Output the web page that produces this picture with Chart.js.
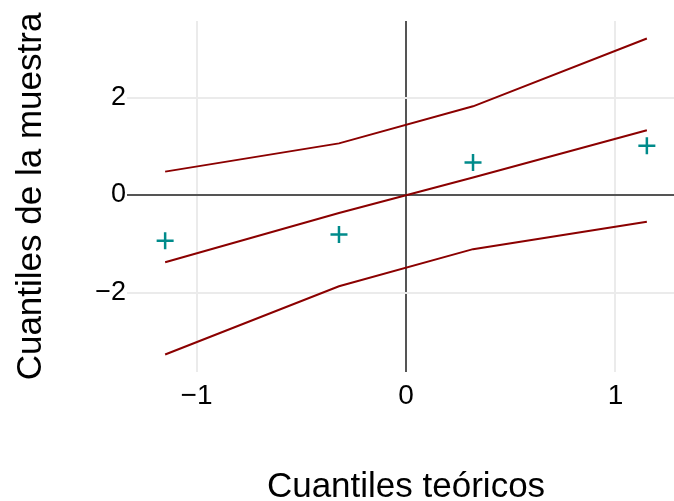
<!DOCTYPE html>
<html>
<head>
<meta charset="utf-8">
<script src="https://cdn.jsdelivr.net/npm/chart.js@4/dist/chart.umd.min.js"></script>
<style>
  html, body { margin: 0; padding: 0; background: #fff; overflow: hidden; }
  /* the panel runs a little past the right edge of the frame */
  .frame { width: 674px; height: 501px; overflow: hidden; }
  #qqChart { display: block; }
</style>
</head>
<body>
<div class="frame">
  <canvas id="qqChart" width="681" height="501"></canvas>
</div>
<script>
// Theoretical quantiles (x) and sample quantiles (y)
const theoretical = [-1.15, -0.32, 0.32, 1.15];
const sample = [-0.94, -0.81, 0.67, 1.01];
// Reference line and confidence band at the same x positions
const refLine = [-1.38, -0.37, 0.36, 1.33];
const upperBand = [0.48, 1.06, 1.82, 3.21];
const lowerBand = [-3.27, -1.87, -1.11, -0.55];
const xTicks = [-1, 0, 1];
const yTicks = [-2, 0, 2];

const lineRed = "#8b0000";
const pointTeal = "#008b8b";
const gridGrey = "#ebebeb";
const axisGrey = "#555555";

function toPoints(ys) {
  return theoretical.map(function(x, i) { return { x: x, y: ys[i] }; });
}

function minusSign(v) {
  return String(v).replace("-", "\u2212");
}

function lineSet(ys) {
  return {
    data: toPoints(ys),
    showLine: true,
    borderColor: lineRed,
    borderWidth: 2,
    pointRadius: 0,
    fill: false,
    tension: 0
  };
}

// grid line at zero doubles as the axis line
function gridColor(c) {
  return c.tick && c.tick.value === 0 ? axisGrey : gridGrey;
}

document.addEventListener("DOMContentLoaded", function() {
  const ctx = document.getElementById("qqChart").getContext("2d");
  Chart.defaults.font.family = "'Liberation Sans', Arial, sans-serif";
  Chart.defaults.color = "#000";

  new Chart(ctx, {
    type: "scatter",
    data: {
      datasets: [
        lineSet(upperBand),
        lineSet(lowerBand),
        lineSet(refLine),
        {
          data: toPoints(sample),
          pointStyle: "cross",
          pointRadius: 8.5,
          pointBorderWidth: 2.5,
          borderColor: pointTeal,
          backgroundColor: pointTeal,
          showLine: false
        }
      ]
    },
    options: {
      responsive: false,
      animation: false,
      devicePixelRatio: 1,
      layout: { autoPadding: false, padding: { top: 21, right: 0, left: 0, bottom: 0 } },
      plugins: {
        legend: { display: false },
        tooltip: { enabled: false }
      },
      scales: {
        x: {
          type: "linear",
          min: -1.313,
          max: 1.313,
          afterFit: function(scale) { scale.height = 129; },
          afterBuildTicks: function(scale) {
            scale.ticks = xTicks.map(function(v) { return { value: v }; });
          },
          border: { display: false },
          grid: {
            drawTicks: false,
            lineWidth: 2,
            color: gridColor
          },
          ticks: {
            padding: 7,
            font: { size: 28 },
            callback: minusSign
          },
          title: {
            display: true,
            text: "Cuantiles teóricos",
            font: { size: 35, lineHeight: 0.8 },
            padding: { top: 0, bottom: 0 }
          }
        },
        y: {
          type: "linear",
          min: -3.63,
          max: 3.57,
          afterFit: function(scale) { scale.width = 131; },
          afterBuildTicks: function(scale) {
            scale.ticks = yTicks.map(function(v) { return { value: v }; });
          },
          border: { display: false },
          grid: {
            tickLength: 4,
            lineWidth: 2,
            color: gridColor
          },
          ticks: {
            padding: 1,
            font: { size: 27 },
            callback: minusSign
          },
          title: {
            display: true,
            text: "Cuantiles de la muestra",
            font: { size: 35 },
            padding: { top: 10, bottom: 0 }
          }
        }
      }
    }
  });
});
</script>
</body>
</html>
